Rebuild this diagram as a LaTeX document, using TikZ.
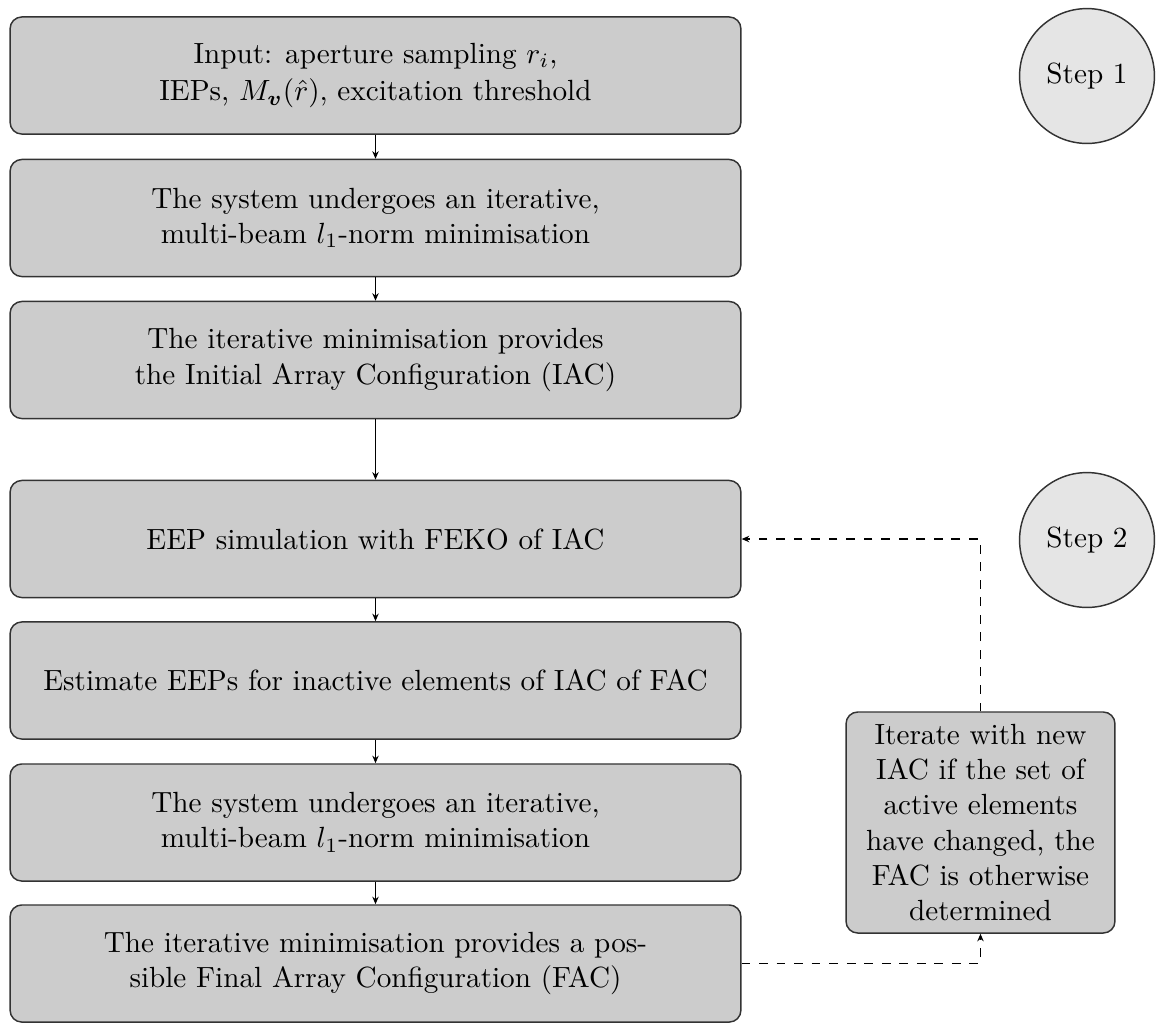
\documentclass[tikz,border=0pt]{standalone}
\usepackage{amsmath}
\usetikzlibrary{arrows.meta}
\begin{document}
\begin{tikzpicture}[x=0.3425pt,y=-0.3425pt,
  mainbox/.style={draw=black!80, line width=0.5pt, fill=black!20, rounded corners=4pt,
    minimum width=250.3pt, minimum height=40.1pt, align=center, inner sep=0pt},
  sidebox/.style={draw=black!80, line width=0.5pt, fill=black!20, rounded corners=4pt,
    minimum width=92.1pt, minimum height=75.7pt, align=center, inner sep=0pt},
  stepcircle/.style={circle, draw=black!80, line width=0.5pt, fill=black!10, minimum size=46.2pt, inner sep=0pt},
  flow/.style={-{Stealth[length=2.6pt,width=2.2pt]}, line width=0.45pt},
  backflow/.style={flow, dashed}]
\useasboundingbox (0,0) rectangle (1156,1022);
\node[mainbox] (b1) at (375.5,75.5) {Input: aperture sampling $r_i$,\\[1pt]IEPs, $M_{\boldsymbol{v}}(\hat{r})$, excitation threshold};
\node[mainbox] (b2) at (375.5,218) {The system undergoes an iterative,\\multi-beam $l_1$-norm minimisation};
\node[mainbox] (b3) at (375.5,360) {The iterative minimisation provides\\the Initial Array Configuration (IAC)};
\node[mainbox] (b4) at (375.5,539) {EEP simulation with FEKO of IAC};
\node[mainbox] (b5) at (375.5,680.5) {Estimate EEPs for inactive elements of IAC of FAC};
\node[mainbox] (b6) at (375.5,822.5) {The system undergoes an iterative,\\multi-beam $l_1$-norm minimisation};
\node[mainbox] (b7) at (375.5,963.5) {The iterative minimisation provides a pos-\\sible Final Array Configuration (FAC)};
\node[sidebox] (side) at (980.5,822.5) {Iterate with new\\IAC if the set of\\active elements\\have changed, the\\FAC is otherwise\\determined};
\node[stepcircle] (s1) at (1087,76) {Step 1};
\node[stepcircle] (s2) at (1087,540) {Step 2};
\draw[flow] (b1) -- (b2);
\draw[flow] (b2) -- (b3);
\draw[flow] (b3) -- (b4);
\draw[flow] (b4) -- (b5);
\draw[flow] (b5) -- (b6);
\draw[flow] (b6) -- (b7);
\draw[backflow] (b7.east) -| (side.south);
\draw[backflow] (side.north) |- (b4.east);
\end{tikzpicture}
\end{document}
